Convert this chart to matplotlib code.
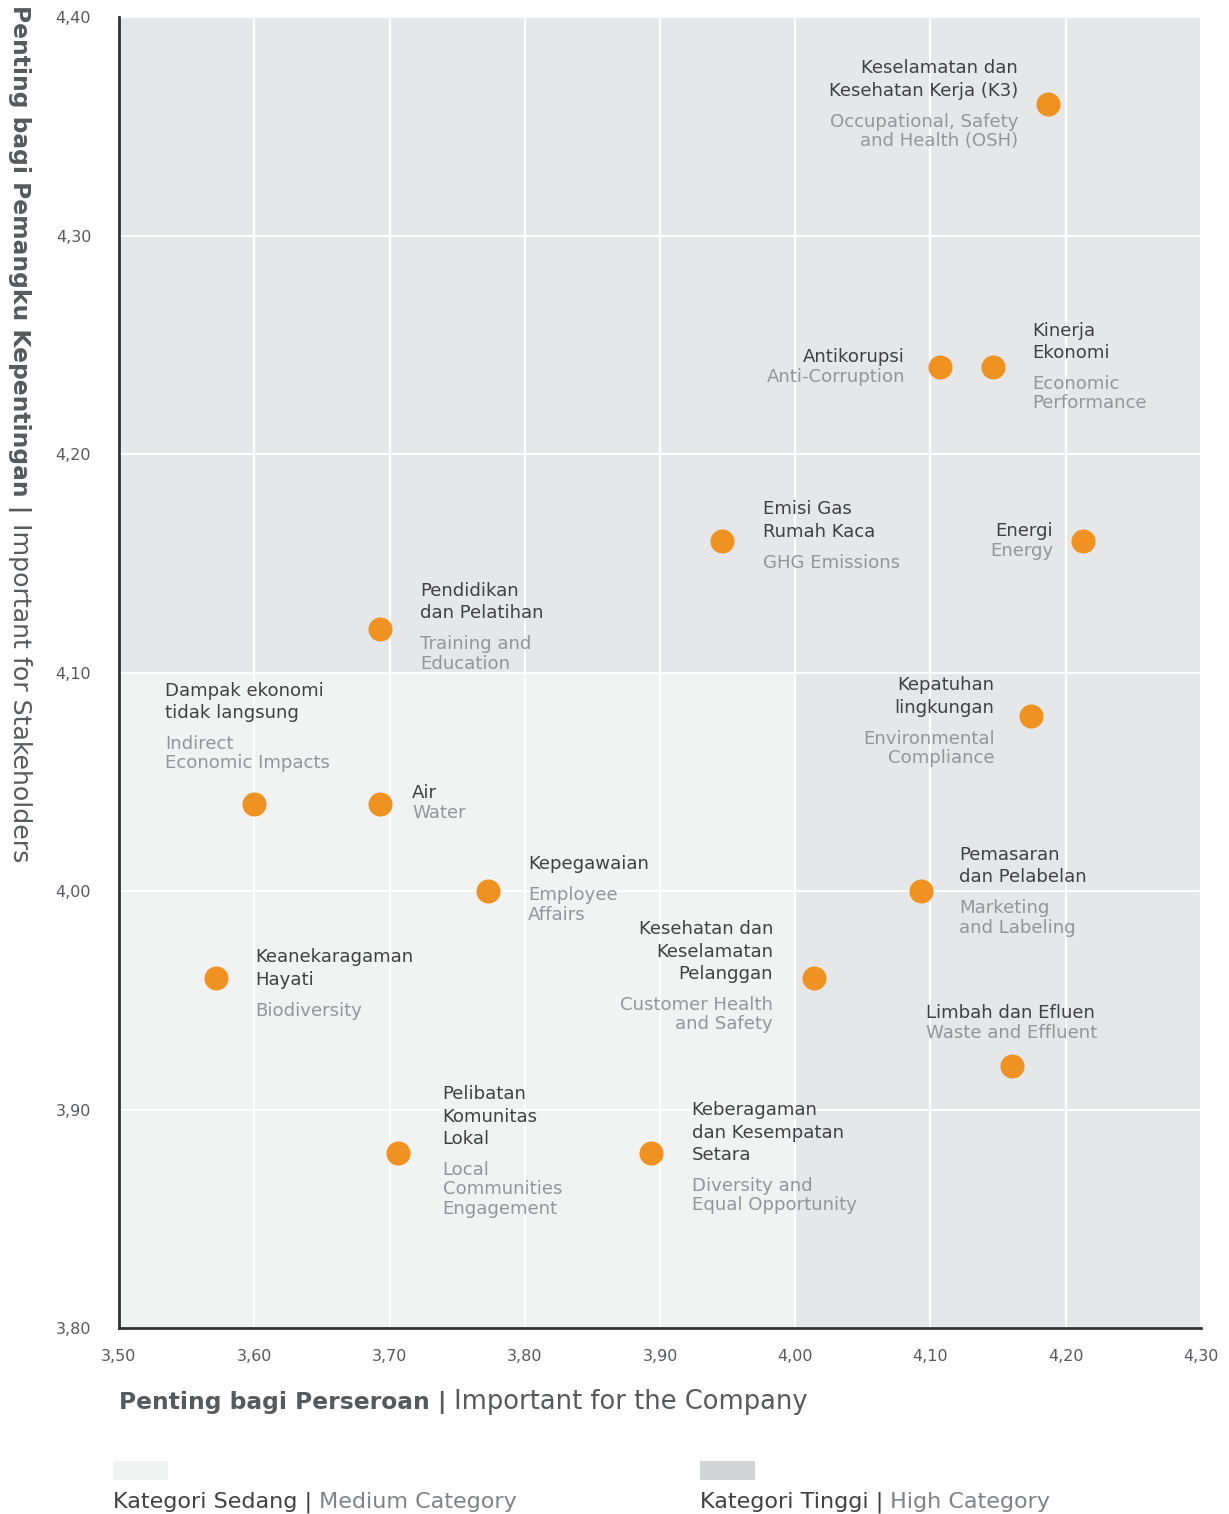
import matplotlib
matplotlib.use("Agg")
import matplotlib.pyplot as plt
from matplotlib.patches import Rectangle
import numpy as np

plt.rcParams['font.family'] = ['DejaVu Sans']

# Data: importance for the company (x) and for stakeholders (y)
topics_id = [
    'Keselamatan dan\nKesehatan Kerja (K3)', 'Antikorupsi', 'Kinerja\nEkonomi',
    'Emisi Gas\nRumah Kaca', 'Energi', 'Pendidikan\ndan Pelatihan',
    'Dampak ekonomi\ntidak langsung', 'Kepatuhan\nlingkungan', 'Air',
    'Kepegawaian', 'Pemasaran\ndan Pelabelan',
    'Kesehatan dan\nKeselamatan\nPelanggan', 'Keanekaragaman\nHayati',
    'Limbah dan Efluen', 'Pelibatan\nKomunitas\nLokal',
    'Keberagaman\ndan Kesempatan\nSetara',
]
topics_en = [
    'Occupational, Safety\nand Health (OSH)', 'Anti-Corruption', 'Economic\nPerformance',
    'GHG Emissions', 'Energy', 'Training and\nEducation',
    'Indirect\nEconomic Impacts', 'Environmental\nCompliance', 'Water',
    'Employee\nAffairs', 'Marketing\nand Labeling',
    'Customer Health\nand Safety', 'Biodiversity',
    'Waste and Effluent', 'Local\nCommunities\nEngagement',
    'Diversity and\nEqual Opportunity',
]
company = [4.187, 4.107, 4.146, 3.946, 4.213, 3.693, 3.600, 4.174, 3.693,
           3.773, 4.093, 4.014, 3.572, 4.160, 3.706, 3.893]
stakeholders = [4.36, 4.24, 4.24, 4.16, 4.16, 4.12, 4.04, 4.08, 4.04,
                4.00, 4.00, 3.96, 3.96, 3.92, 3.88, 3.88]

x_ticks = [3.5, 3.6, 3.7, 3.8, 3.9, 4.0, 4.1, 4.2, 4.3]
y_ticks = [3.8, 3.9, 4.0, 4.1, 4.2, 4.3, 4.4]

# label layout: (dx px, dy px of first line, ha, tight gap)
label_pos = [
    (-30, 36, 'right', False), (-35, 10, 'right', True), (40, 36, 'left', False),
    (41, 32, 'left', False), (-30, 10, 'right', True), (40, 38, 'left', False),
    (-89, 113, 'left', False), (-36, 31, 'right', False), (32, 11, 'left', True),
    (40, 27, 'left', False), (38, 36, 'left', False),
    (-41, 49, 'right', False), (39, 21, 'left', False),
    (-86, 53, 'left', True), (45, 59, 'left', False),
    (41, 43, 'left', False),
]

dark = '#414042'
grey = '#939598'
orange = '#ef9222'
high_col = '#e6e7e8'
med_col = '#f1f2f2'

fig = plt.figure(figsize=(12.29, 15.14), dpi=100)
ax = fig.add_axes([119 / 1229, 1 - 1328 / 1514, (1201 - 119) / 1229, (1328 - 17) / 1514])
ax.set_xlim(3.5, 4.3)
ax.set_ylim(3.8, 4.4)

# category regions
ax.add_patch(Rectangle((3.5, 4.1), 0.8, 0.3, color=high_col, zorder=0, lw=0))
ax.add_patch(Rectangle((4.0, 3.8), 0.3, 0.3, color=high_col, zorder=0, lw=0))
ax.add_patch(Rectangle((3.5, 3.8), 0.5, 0.3, color=med_col, zorder=0, lw=0))

ax.set_xticks(x_ticks)
ax.set_yticks(y_ticks)
ax.set_xticklabels([f'{v:.2f}'.replace('.', ',') for v in x_ticks])
ax.set_yticklabels([f'{v:.2f}'.replace('.', ',') for v in y_ticks])
ax.tick_params(length=0, labelsize=11.5, colors='#58595b')
ax.tick_params(axis='x', pad=15)
ax.tick_params(axis='y', pad=20)
ax.grid(True, color='white', lw=1.5, zorder=1)
ax.set_axisbelow(True)
for s in ['top', 'right']:
    ax.spines[s].set_visible(False)
for s in ['left', 'bottom']:
    ax.spines[s].set_color('#333333')
    ax.spines[s].set_linewidth(2)
    ax.spines[s].set_zorder(3)

ax.scatter(company, stakeholders, s=300, color=orange, zorder=4, lw=0)

for i in range(len(company)):
    dx, dy, ha, tight = label_pos[i]
    yoff = dy
    for line in topics_id[i].split('\n'):
        ax.annotate(line, (company[i], stakeholders[i]), xytext=(dx, yoff),
                    textcoords='offset pixels', ha=ha, va='center',
                    fontsize=13.1, color=dark, zorder=5)
        yoff -= 22.3
    yoff += 22.3
    yoff -= 20 if tight else 31
    for line in topics_en[i].split('\n'):
        ax.annotate(line, (company[i], stakeholders[i]), xytext=(dx, yoff),
                    textcoords='offset pixels', ha=ha, va='center',
                    fontsize=13.1, color=grey, zorder=5)
        yoff -= 19.5

# axis titles
t1 = fig.text(119 / 1229, 1 - 1402 / 1514, 'Penting bagi Perseroan |', fontsize=16.8,
              fontweight='bold', color='#58595b', ha='left', va='center')
ax.annotate(' Important for the Company', xy=(1, 0.5), xycoords=t1, ha='left',
            va='center', fontsize=18.5, color='#58595b')
t2 = fig.text(8 / 1229, 1 - 5 / 1514, 'Penting bagi Pemangku Kepentingan |', fontsize=16.8,
              fontweight='bold', color='#58595b', ha='left', va='top', rotation=-90)
ax.annotate('Important for Stakeholders', xy=(0, 0), xycoords=t2, xytext=(0, -10),
            textcoords='offset pixels', ha='left', va='top', fontsize=18.2,
            color='#58595b', rotation=-90)

# legend
fig.patches.append(Rectangle((113 / 1229, 1 - 1480 / 1514), 55 / 1229, 19 / 1514,
                             transform=fig.transFigure, color=med_col, lw=0))
fig.patches.append(Rectangle((700 / 1229, 1 - 1480 / 1514), 55 / 1229, 19 / 1514,
                             transform=fig.transFigure, color='#d1d3d4', lw=0))
l1 = fig.text(113 / 1229, 1 - 1502 / 1514, 'Kategori Sedang |', fontsize=16,
              color=dark, ha='left', va='center')
ax.annotate(' Medium Category', xy=(1, 0.5), xycoords=l1, ha='left', va='center',
            fontsize=16, color='#808285')
l2 = fig.text(700 / 1229, 1 - 1502 / 1514, 'Kategori Tinggi |', fontsize=16,
              color=dark, ha='left', va='center')
ax.annotate(' High Category', xy=(1, 0.5), xycoords=l2, ha='left', va='center',
            fontsize=16, color='#808285')

fig.savefig('out.png', dpi=100)
